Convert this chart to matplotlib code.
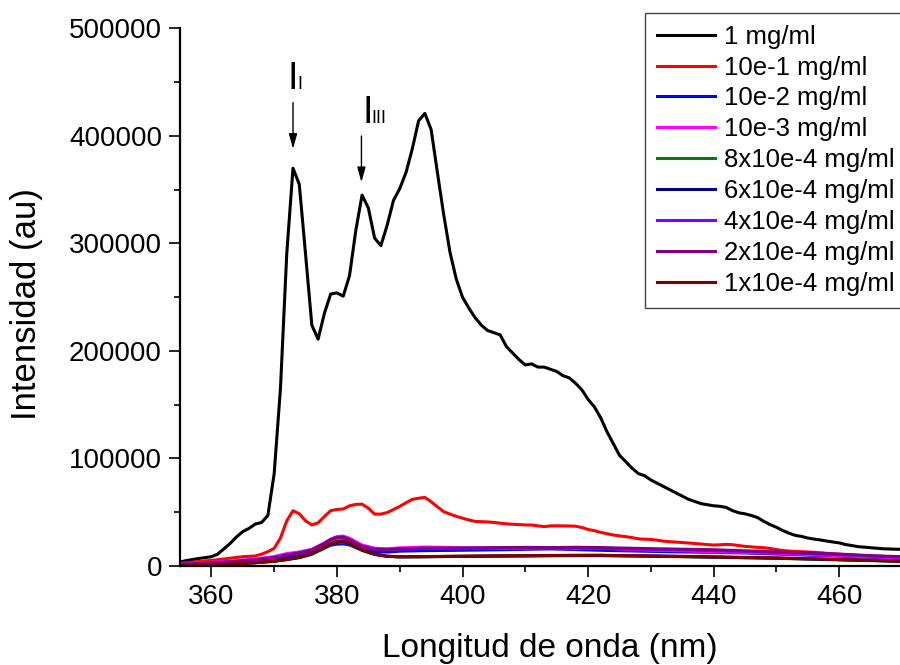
import numpy as np
import matplotlib
matplotlib.use("Agg")
import matplotlib.pyplot as plt

plt.rcParams['font.family'] = ['Liberation Sans', 'DejaVu Sans']

# longitud de onda (nm), paso de 1 nm para las dos curvas grandes
wl = list(range(355, 471))

y_1 = [3700, 5000, 6000, 7000, 7800, 8600, 11000, 16000, 21000, 27000,
       32000, 35000, 39000, 40500, 47000, 86000, 165000, 290000, 370000, 355000,
       290000, 224000, 211000, 235000, 253000, 254000, 251000, 270000, 312000, 345000,
       333000, 305000, 298000, 317000, 340000, 351000, 366000, 388000, 414000, 421000,
       406000, 366000, 327000, 292000, 267000, 250000, 240000, 231000, 224000, 219000,
       217000, 215000, 204000, 198000, 192000, 187000, 188000, 185000, 185000, 183000,
       181000, 177000, 175000, 170000, 164000, 155000, 148000, 138000, 125000, 114000,
       103000, 97000, 91000, 86000, 84000, 80000, 77000, 74000, 71000, 68000,
       65000, 62000, 60000, 58000, 57000, 56000, 55500, 54500, 51500, 49500,
       48500, 47000, 45000, 41500, 38500, 36000, 33000, 30500, 28500, 27500,
       26000, 25000, 24200, 23200, 22300, 21500, 20000, 19000, 18000, 17500,
       17000, 16500, 16000, 15800, 15600, 15500]

y_e1 = [2500, 3000, 3600, 4200, 4700, 5200, 5800, 6500, 7200, 8000,
        8600, 9000, 9300, 11000, 13300, 16400, 26000, 42000, 51400, 48500,
        42000, 38200, 40200, 46000, 51500, 52600, 53000, 56000, 57300, 57500,
        53800, 48200, 48300, 49700, 52500, 55500, 58800, 62000, 63000, 63800,
        59700, 55000, 50500, 48300, 46200, 44500, 42800, 41500, 41200, 41000,
        40500, 39800, 39200, 38800, 38500, 38200, 38100, 37300, 36600, 37300,
        37400, 37300, 37200, 37000, 35800, 34000, 32800, 31300, 30000, 28800,
        28000, 27300, 26400, 25300, 24900, 24700, 24000, 23100, 22600, 22200,
        21800, 21400, 20900, 20400, 19900, 19500, 19700, 20100, 19800, 19000,
        18200, 17800, 17300, 17000, 16300, 15300, 14300, 13900, 13600, 13300,
        13000, 12700, 12300, 11800, 11300, 10900, 10500, 10100, 9700, 9300,
        9100, 8900, 8800, 8700, 8600, 8600]

# curvas pequenas
wl_b = [355, 358, 361, 364, 367, 370, 372, 374, 376, 378, 379, 380, 381, 382, 383,
        384, 386, 388, 390, 394, 398, 402, 406, 410, 414, 418, 422, 426, 430, 435,
        440, 445, 450, 455, 460, 465, 470]

y_e2 = [1200, 1800, 2600, 3500, 4700, 6500, 8500, 10000, 12500, 17000, 19300, 20300,
        20600, 19600, 17200, 15200, 13200, 13000, 13800, 14300, 14500, 14800, 15100,
        15500, 15900, 15300, 14600, 14100, 13600, 13100, 12600, 12100, 11100, 10100,
        9100, 8100, 7100]
y_e3 = [2000, 2800, 3800, 5000, 6500, 8800, 11500, 13000, 15500, 21500, 25000, 27300,
        27800, 25800, 22500, 19500, 16500, 16000, 16800, 17600, 17200, 16600, 16300,
        16600, 16900, 16400, 16800, 15600, 14700, 14100, 13200, 12600, 11900, 10600,
        9600, 8500, 7600]
y_8e4 = [600, 1100, 1600, 2300, 3100, 4500, 6000, 7800, 11000, 16500, 19800, 21700,
         22200, 20500, 17300, 14500, 10800, 9000, 8500, 8600, 8800, 9000, 9200, 9300,
         9500, 9600, 9600, 9300, 9000, 8600, 8100, 7600, 7100, 6400, 5700, 5000, 4300]
y_6e4 = [550, 1050, 1550, 2250, 3050, 4500, 6000, 7900, 11200, 16900, 20200, 22200,
         22700, 20900, 17600, 14700, 10900, 9000, 8500, 8600, 8900, 9100, 9300, 9500,
         9700, 9800, 9800, 9500, 9200, 8800, 8300, 7800, 7300, 6600, 5900, 5200, 4400]
y_4e4 = [1600, 2300, 3200, 4300, 5800, 7800, 10300, 12200, 15000, 20500, 24000, 26000,
         26300, 24300, 21000, 18200, 15400, 15000, 15600, 16300, 16200, 16400, 16600,
         16900, 16700, 16900, 16600, 16000, 15500, 15000, 14400, 13600, 12700, 11600,
         10600, 9300, 8300]
y_2e4 = [1500, 2200, 3100, 4200, 5600, 7600, 10000, 12000, 14800, 20800, 24500, 26600,
         26900, 24700, 21300, 18300, 15600, 15200, 15900, 16600, 16600, 16900, 17100,
         17300, 17100, 17400, 17100, 16600, 16100, 15600, 15100, 14100, 13100, 12100,
         11100, 9600, 8600]
y_1e4 = [500, 1000, 1500, 2200, 3000, 4500, 6100, 8100, 11500, 17500, 21000, 23000,
         23500, 21500, 18000, 15000, 11000, 9100, 8600, 8800, 9000, 9200, 9400, 9600,
         9800, 9900, 10000, 9700, 9400, 9000, 8500, 8000, 7500, 6800, 6000, 5300, 4500]

etiquetas = ['1 mg/ml', '10e-1 mg/ml', '10e-2 mg/ml', '10e-3 mg/ml', '8x10e-4 mg/ml',
             '6x10e-4 mg/ml', '4x10e-4 mg/ml', '2x10e-4 mg/ml', '1x10e-4 mg/ml']
colores = ['#000000', '#ff0000', '#0000ff', '#ff00ff', '#008000',
           '#000080', '#8000ff', '#800080', '#800000']
series = [(wl, y_1), (wl, y_e1), (wl_b, y_e2), (wl_b, y_e3), (wl_b, y_8e4),
          (wl_b, y_6e4), (wl_b, y_4e4), (wl_b, y_2e4), (wl_b, y_1e4)]

fig = plt.figure(figsize=(9, 6.65), dpi=100)
ax = fig.add_axes([0.2, 0.1489, 0.8022, 0.8083])

for (x, y), lab, c in zip(series, etiquetas, colores):
    ax.plot(x, y, color=c, lw=2.2, label=lab)

ax.set_xlim(355, 470)
ax.set_ylim(0, 500000)
ax.set_xticks([360, 380, 400, 420, 440, 460])
ax.set_xticks([370, 390, 410, 430, 450, 470], minor=True)
ax.set_yticks([0, 100000, 200000, 300000, 400000, 500000])
ax.set_yticks(np.arange(50000, 500000, 100000), minor=True)
ax.tick_params(which='major', direction='out', length=8, width=1.2, labelsize=20, pad=5)
ax.tick_params(which='minor', direction='out', length=4, width=1.2)
for s in ['top', 'right']:
    ax.spines[s].set_visible(False)
for s in ['left', 'bottom']:
    ax.spines[s].set_linewidth(1.6)

ax.set_xlabel('Longitud de onda (nm)', fontsize=24)
ax.set_ylabel('Intensidad (au)', fontsize=25)
ax.xaxis.set_label_coords(0.512, -0.125)
ax.yaxis.set_label_coords(-0.19, 0.487)

# picos I y III (letra grande + subindice pequeno)
picos = [(372.2, 444000, 'I'), (384.1, 412500, 'III')]
for px, py, sub in picos:
    ax.text(px, py, 'I', fontsize=27, ha='left', va='baseline')
    ax.annotate(sub, xy=(px, py), xytext=(6.5, 0), textcoords='offset points',
                fontsize=13, ha='left', va='baseline')

flecha = dict(arrowstyle='-|>,head_width=0.25,head_length=0.9', color='k', lw=1,
              shrinkA=0, shrinkB=0)
ax.annotate('', xy=(373.0, 388000), xytext=(373.0, 431000), arrowprops=flecha)
ax.annotate('', xy=(383.9, 357000), xytext=(383.9, 400000), arrowprops=flecha)

leg = ax.legend(loc='upper left', bbox_to_anchor=(645 / 900, 1 - 13 / 665),
                bbox_transform=fig.transFigure, fontsize=18.5, frameon=True,
                fancybox=False, edgecolor='#444444', framealpha=1,
                handlelength=2.26, handletextpad=0.35, labelspacing=0.27,
                borderpad=0.45, borderaxespad=0)
leg.get_frame().set_linewidth(1.0)

fig.savefig('out.png', dpi=100)
